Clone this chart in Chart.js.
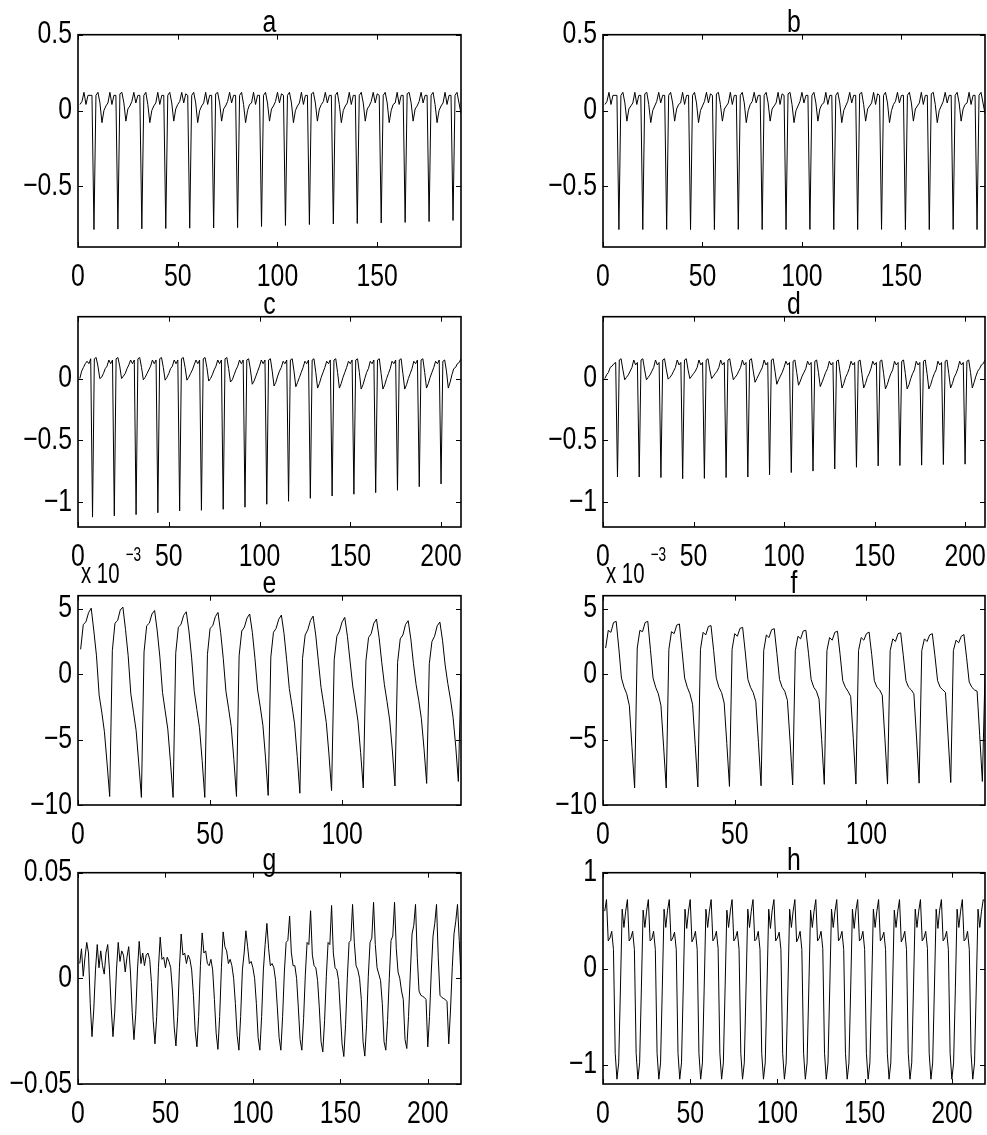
<!DOCTYPE html>
<html>
<head>
<meta charset="utf-8">
<script src="https://cdn.jsdelivr.net/npm/chart.js@4.4.1/dist/chart.umd.min.js"></script>
<style>
html,body{margin:0;padding:0;background:#fff;overflow:hidden;}
#wrap{position:relative;width:987px;height:1135px;overflow:hidden;background:#fff;}
.pn{position:absolute;}
</style>
</head>
<body>
<div id="wrap"></div>
<script>
// ---------------- data (sample index starts at 1) ----------------
const seriesA = [
 0.04, 0.06, 0.12, 0.04, 0.10, 0.10, 0.10,
 -0.785, 0.10, 0.12, 0.05, -0.08, 0.00, 0.03, 0.05, 0.12, 0.04, 0.10, 0.10,
 -0.782, 0.11, 0.12, 0.05, -0.07, 0.01, 0.03, 0.06, 0.12, 0.05, 0.10, 0.10,
 -0.780, 0.10, 0.12, 0.04, -0.08, 0.00, 0.03, 0.05, 0.12, 0.04, 0.10, 0.10,
 -0.778, 0.10, 0.12, 0.05, -0.07, 0.01, 0.04, 0.06, 0.12, 0.05, 0.11, 0.10,
 -0.776, 0.10, 0.12, 0.05, -0.08, 0.00, 0.03, 0.05, 0.12, 0.04, 0.10, 0.10,
 -0.775, 0.11, 0.12, 0.05, -0.07, 0.01, 0.03, 0.06, 0.12, 0.05, 0.10, 0.10,
 -0.772, 0.10, 0.12, 0.04, -0.08, 0.00, 0.04, 0.05, 0.12, 0.04, 0.10, 0.10,
 -0.765, 0.10, 0.12, 0.05, -0.07, 0.01, 0.03, 0.06, 0.12, 0.05, 0.11, 0.10,
 -0.758, 0.10, 0.12, 0.05, -0.08, 0.00, 0.03, 0.05, 0.12, 0.04, 0.10, 0.10,
 -0.752, 0.11, 0.12, 0.05, -0.07, 0.01, 0.04, 0.06, 0.12, 0.05, 0.10, 0.10,
 -0.748, 0.10, 0.12, 0.04, -0.08, 0.00, 0.03, 0.05, 0.12, 0.04, 0.10, 0.10,
 -0.745, 0.10, 0.12, 0.05, -0.07, 0.01, 0.03, 0.06, 0.12, 0.05, 0.11, 0.10,
 -0.742, 0.10, 0.12, 0.05, -0.08, 0.00, 0.04, 0.05, 0.12, 0.04, 0.10, 0.10,
 -0.738, 0.11, 0.12, 0.05, -0.07, 0.01, 0.03, 0.06, 0.12, 0.05, 0.10, 0.10,
 -0.732, 0.10, 0.12, 0.04, -0.08, 0.00, 0.03, 0.05, 0.12, 0.04, 0.10, 0.10,
 -0.725, 0.10, 0.12, 0.05, -0.02
];
const seriesB = [
 0.04, 0.06, 0.12, 0.04, 0.10, 0.10, 0.10,
 -0.785, 0.10, 0.12, 0.05, -0.07, 0.01, 0.03, 0.05, 0.12, 0.04, 0.10, 0.10,
 -0.785, 0.11, 0.12, 0.04, -0.08, 0.00, 0.03, 0.06, 0.12, 0.05, 0.10, 0.10,
 -0.784, 0.10, 0.12, 0.05, -0.07, 0.01, 0.04, 0.05, 0.12, 0.04, 0.10, 0.10,
 -0.785, 0.10, 0.12, 0.05, -0.08, 0.00, 0.03, 0.06, 0.12, 0.05, 0.11, 0.10,
 -0.785, 0.11, 0.12, 0.04, -0.07, 0.01, 0.03, 0.05, 0.12, 0.04, 0.10, 0.10,
 -0.784, 0.10, 0.12, 0.05, -0.08, 0.00, 0.04, 0.06, 0.12, 0.05, 0.10, 0.10,
 -0.785, 0.10, 0.12, 0.05, -0.07, 0.01, 0.03, 0.05, 0.12, 0.04, 0.11, 0.10,
 -0.785, 0.11, 0.12, 0.04, -0.08, 0.00, 0.03, 0.06, 0.12, 0.05, 0.10, 0.10,
 -0.784, 0.10, 0.12, 0.05, -0.07, 0.01, 0.04, 0.05, 0.12, 0.04, 0.10, 0.10,
 -0.785, 0.10, 0.12, 0.05, -0.08, 0.00, 0.03, 0.06, 0.12, 0.05, 0.10, 0.10,
 -0.785, 0.11, 0.12, 0.04, -0.07, 0.01, 0.03, 0.05, 0.12, 0.04, 0.11, 0.10,
 -0.784, 0.10, 0.12, 0.05, -0.08, 0.00, 0.04, 0.06, 0.12, 0.05, 0.10, 0.10,
 -0.785, 0.10, 0.12, 0.05, -0.07, 0.01, 0.03, 0.05, 0.12, 0.04, 0.10, 0.10,
 -0.785, 0.11, 0.12, 0.04, -0.08, 0.00, 0.03, 0.06, 0.12, 0.05, 0.10, 0.10,
 -0.784, 0.10, 0.12, 0.05, -0.07, 0.01, 0.04, 0.05, 0.12, 0.04, 0.10, 0.10,
 -0.785, 0.10, 0.12, 0.05, -0.02
];
const seriesC = [
 0.00, 0.06, 0.09, 0.12, 0.14, 0.12, 0.16,
 -1.120, 0.16, 0.17, 0.10, 0.000, 0.01, 0.04, 0.08, 0.10, 0.15, 0.12, 0.15,
 -1.110, 0.16, 0.17, 0.10, 0.000, 0.02, 0.04, 0.08, 0.11, 0.15, 0.12, 0.15,
 -1.100, 0.16, 0.17, 0.09, -0.010, 0.01, 0.04, 0.07, 0.10, 0.15, 0.12, 0.15,
 -1.085, 0.16, 0.17, 0.09, -0.013, 0.01, 0.04, 0.08, 0.10, 0.15, 0.12, 0.15,
 -1.070, 0.16, 0.17, 0.09, -0.013, 0.01, 0.04, 0.07, 0.11, 0.15, 0.12, 0.15,
 -1.065, 0.16, 0.17, 0.09, -0.020, 0.00, 0.03, 0.07, 0.10, 0.15, 0.12, 0.15,
 -1.057, 0.16, 0.17, 0.08, -0.028, -0.01, 0.03, 0.07, 0.10, 0.15, 0.12, 0.15,
 -1.040, 0.15, 0.16, 0.07, -0.046, -0.02, 0.02, 0.06, 0.10, 0.15, 0.12, 0.15,
 -1.016, 0.15, 0.16, 0.06, -0.060, -0.03, 0.02, 0.06, 0.09, 0.14, 0.12, 0.15,
 -0.992, 0.15, 0.16, 0.06, -0.066, -0.03, 0.01, 0.05, 0.09, 0.14, 0.12, 0.15,
 -0.968, 0.15, 0.16, 0.05, -0.077, -0.04, 0.01, 0.05, 0.09, 0.14, 0.12, 0.15,
 -0.949, 0.15, 0.16, 0.05, -0.077, -0.04, 0.01, 0.05, 0.09, 0.14, 0.12, 0.15,
 -0.935, 0.15, 0.16, 0.05, -0.085, -0.05, 0.00, 0.05, 0.08, 0.14, 0.12, 0.15,
 -0.922, 0.15, 0.16, 0.04, -0.085, -0.05, 0.00, 0.04, 0.08, 0.14, 0.12, 0.15,
 -0.903, 0.15, 0.16, 0.04, -0.085, -0.05, 0.00, 0.04, 0.08, 0.14, 0.12, 0.15,
 -0.874, 0.15, 0.16, 0.05, -0.077, -0.04, 0.01, 0.05, 0.09, 0.14, 0.12, 0.15,
 -0.852, 0.14, 0.15, 0.06, -0.077, -0.03, 0.03, 0.08, 0.09, 0.12, 0.13, 0.16
];
const seriesD = [
 0.00, 0.03, 0.05, 0.09, 0.10, 0.12, 0.13,
 -0.796, 0.15, 0.16, 0.07, -0.010, 0.01, 0.03, 0.06, 0.09, 0.15, 0.11, 0.13,
 -0.796, 0.15, 0.16, 0.07, -0.010, 0.01, 0.03, 0.06, 0.09, 0.15, 0.11, 0.13,
 -0.800, 0.15, 0.16, 0.07, -0.005, 0.01, 0.03, 0.06, 0.09, 0.15, 0.11, 0.13,
 -0.810, 0.15, 0.16, 0.07, 0.000, 0.02, 0.04, 0.06, 0.09, 0.15, 0.11, 0.13,
 -0.807, 0.15, 0.16, 0.07, 0.000, 0.02, 0.04, 0.06, 0.09, 0.15, 0.11, 0.13,
 -0.800, 0.15, 0.16, 0.07, -0.010, 0.01, 0.03, 0.06, 0.09, 0.15, 0.11, 0.13,
 -0.796, 0.15, 0.16, 0.06, -0.030, 0.00, 0.03, 0.06, 0.09, 0.15, 0.11, 0.13,
 -0.777, 0.15, 0.16, 0.06, -0.046, -0.01, 0.02, 0.05, 0.09, 0.14, 0.11, 0.13,
 -0.760, 0.14, 0.15, 0.05, -0.054, -0.02, 0.02, 0.05, 0.08, 0.14, 0.11, 0.13,
 -0.748, 0.14, 0.15, 0.05, -0.065, -0.03, 0.01, 0.05, 0.08, 0.14, 0.11, 0.13,
 -0.731, 0.14, 0.15, 0.04, -0.076, -0.04, 0.01, 0.04, 0.08, 0.14, 0.11, 0.13,
 -0.717, 0.14, 0.15, 0.04, -0.076, -0.04, 0.01, 0.04, 0.08, 0.14, 0.11, 0.13,
 -0.706, 0.14, 0.15, 0.04, -0.084, -0.05, 0.00, 0.04, 0.07, 0.14, 0.11, 0.13,
 -0.703, 0.14, 0.15, 0.04, -0.084, -0.05, 0.00, 0.04, 0.07, 0.14, 0.11, 0.13,
 -0.700, 0.14, 0.15, 0.04, -0.084, -0.05, 0.00, 0.04, 0.07, 0.14, 0.11, 0.13,
 -0.695, 0.14, 0.15, 0.04, -0.076, -0.04, 0.01, 0.04, 0.08, 0.14, 0.11, 0.13,
 -0.692, 0.14, 0.15, 0.05, -0.076, -0.03, 0.02, 0.06, 0.08, 0.11, 0.12, 0.15
];
// panels e and f are in units of 10^-3
const seriesE = [
 1.9, 3.8, 4.0, 4.7, 5.05, 3.3, 1.4, -1.6, -2.9, -4.4, -6.8,
 -9.35, 1.8, 3.9, 4.1, 4.9, 5.13, 3.4, 1.4, -1.5, -2.9, -4.3, -6.8,
 -9.42, 1.7, 3.7, 3.9, 4.6, 4.87, 3.3, 1.3, -1.4, -2.8, -4.2, -6.7,
 -9.42, 1.6, 3.6, 3.8, 4.5, 4.77, 3.3, 1.3, -1.3, -2.7, -4.1, -6.6,
 -9.42, 1.5, 3.5, 3.7, 4.4, 4.72, 3.2, 1.2, -1.3, -2.6, -4.0, -6.5,
 -9.35, 1.4, 3.3, 3.6, 4.3, 4.60, 3.2, 1.2, -1.2, -2.5, -3.9, -6.4,
 -9.27, 1.3, 3.2, 3.5, 4.2, 4.52, 3.1, 1.1, -1.1, -2.4, -3.8, -6.3,
 -9.10, 1.2, 3.0, 3.4, 4.1, 4.44, 3.0, 1.0, -1.0, -2.3, -3.7, -6.1,
 -8.90, 1.1, 2.9, 3.3, 4.0, 4.34, 2.9, 1.0, -0.9, -2.2, -3.6, -6.0,
 -8.70, 1.0, 2.8, 3.1, 3.9, 4.21, 2.8, 0.9, -0.8, -2.1, -3.5, -5.8,
 -8.55, 0.9, 2.7, 3.0, 3.8, 4.09, 2.7, 0.8, -0.8, -2.0, -3.4, -5.7,
 -8.35, 0.8, 2.5, 2.9, 3.7, 3.99, 2.6, 0.7, -0.7, -1.9, -3.3, -5.5,
 -8.20, 0.0
];
const seriesF = [
 2.0, 3.35, 3.2, 3.95, 4.04, 2.0, -0.3, -1.0, -1.5, -2.4, -5.6,
 -8.70, 2.0, 3.35, 3.25, 3.95, 4.04, 1.9, -0.3, -1.0, -1.5, -2.4, -5.5,
 -8.70, 1.9, 3.25, 3.1, 3.75, 3.84, 1.8, -0.3, -1.0, -1.5, -2.3, -5.4,
 -8.62, 1.9, 3.2, 3.0, 3.65, 3.71, 1.8, -0.3, -1.0, -1.4, -2.2, -5.3,
 -8.58, 1.9, 3.1, 2.9, 3.5, 3.58, 1.7, -0.4, -1.0, -1.4, -2.1, -5.2,
 -8.53, 1.8, 3.0, 2.8, 3.4, 3.48, 1.6, -0.4, -1.0, -1.3, -2.0, -5.1,
 -8.47, 1.8, 2.9, 2.7, 3.3, 3.36, 1.6, -0.4, -1.0, -1.3, -1.9, -5.0,
 -8.42, 1.8, 2.8, 2.6, 3.2, 3.28, 1.5, -0.5, -1.0, -1.3, -1.7, -4.9,
 -8.40, 1.8, 2.8, 2.6, 3.1, 3.22, 1.5, -0.5, -1.0, -1.2, -1.6, -4.9,
 -8.40, 1.8, 2.7, 2.5, 3.1, 3.16, 1.4, -0.5, -1.0, -1.2, -1.5, -4.8,
 -8.33, 1.8, 2.7, 2.5, 3.0, 3.10, 1.4, -0.5, -1.0, -1.2, -1.4, -4.8,
 -8.28, 1.8, 2.6, 2.4, 2.9, 3.03, 1.3, -0.6, -1.0, -1.2, -1.3, -4.7,
 -8.20, 0.0
];
const seriesG = [
 0.007, 0.014, 0.001, 0.010, 0.017, 0.012, -0.012,
 -0.0276, -0.015, 0.004, 0.016, 0.005, 0.013, 0.006, 0.002, 0.012, 0.016, 0.004, -0.014,
 -0.0276, -0.016, 0.004, 0.017, 0.008, 0.013, 0.011, 0.003, 0.010, 0.015, 0.003, -0.016,
 -0.0290, -0.017, 0.004, 0.0175, 0.007, 0.012, 0.006, 0.011, 0.012, 0.009, -0.002, -0.020,
 -0.0310, -0.018, 0.005, 0.0195, 0.009, 0.010, 0.005, 0.010, 0.008, 0.005, -0.006, -0.023,
 -0.0320, -0.018, 0.005, 0.021, 0.011, 0.012, 0.007, 0.011, 0.009, 0.004, -0.008, -0.025,
 -0.0324, -0.018, 0.006, 0.0215, 0.012, 0.013, 0.007, 0.006, 0.009, 0.004, -0.010, -0.026,
 -0.0336, -0.018, 0.005, 0.022, 0.015, 0.013, 0.007, 0.009, 0.006, 0.000, -0.012, -0.027,
 -0.0340, -0.018, 0.004, 0.012, 0.0225, 0.015, 0.007, 0.008, 0.005, 0.000, -0.012, -0.028,
 -0.0340, -0.018, 0.004, 0.016, 0.026, 0.014, 0.006, 0.007, 0.005, -0.001, -0.014, -0.028,
 -0.0340, -0.018, 0.003, 0.017, 0.018, 0.0295, 0.012, 0.006, 0.006, 0.000, -0.014, -0.029,
 -0.0340, -0.019, 0.002, 0.017, 0.016, 0.032, 0.011, 0.006, 0.005, -0.001, -0.014, -0.030,
 -0.0348, -0.020, 0.001, 0.017, 0.016, 0.0345, 0.012, 0.005, 0.004, -0.001, -0.016, -0.031,
 -0.0370, -0.022, 0.000, 0.017, 0.018, 0.035, 0.017, 0.006, 0.004, 0.000, -0.010, -0.030,
 -0.0368, -0.022, 0.001, 0.017, 0.019, 0.036, 0.016, 0.005, 0.002, -0.001, -0.012, -0.030,
 -0.0340, -0.020, 0.000, 0.018, 0.020, 0.036, 0.014, 0.003, 0.000, -0.006, -0.010, -0.029,
 -0.0332, -0.018, 0.002, 0.021, 0.025, 0.035, 0.010, -0.006, -0.008, -0.0085, -0.009, -0.010,
 -0.0324, -0.018, 0.003, 0.020, 0.026, 0.035, 0.010, -0.008, -0.009, -0.0095, -0.010, -0.011,
 -0.0310, -0.015, 0.005, 0.021, 0.027, 0.035, 0.018, 0.000
];
const seriesH = [
 0.60, 0.72, 0.29, 0.32, 0.39, 0.20, -0.88,
 -1.15, -0.98, -0.20, 0.62, 0.43, 0.60, 0.72, 0.29, 0.32, 0.39, 0.20, -0.88,
 -1.15, -0.98, -0.21, 0.61, 0.43, 0.60, 0.72, 0.29, 0.31, 0.39, 0.20, -0.88,
 -1.15, -0.98, -0.20, 0.62, 0.43, 0.61, 0.72, 0.29, 0.32, 0.38, 0.20, -0.88,
 -1.15, -0.98, -0.20, 0.62, 0.42, 0.60, 0.72, 0.28, 0.32, 0.39, 0.20, -0.88,
 -1.15, -0.98, -0.21, 0.62, 0.43, 0.60, 0.72, 0.29, 0.32, 0.39, 0.21, -0.88,
 -1.15, -0.98, -0.20, 0.61, 0.43, 0.60, 0.72, 0.29, 0.32, 0.39, 0.20, -0.88,
 -1.15, -0.98, -0.20, 0.62, 0.43, 0.60, 0.72, 0.29, 0.31, 0.39, 0.20, -0.88,
 -1.15, -0.98, -0.20, 0.62, 0.42, 0.61, 0.72, 0.29, 0.32, 0.38, 0.20, -0.88,
 -1.15, -0.98, -0.21, 0.62, 0.43, 0.60, 0.72, 0.28, 0.32, 0.39, 0.20, -0.88,
 -1.15, -0.98, -0.20, 0.61, 0.43, 0.60, 0.72, 0.29, 0.32, 0.39, 0.21, -0.88,
 -1.15, -0.98, -0.20, 0.62, 0.43, 0.60, 0.72, 0.29, 0.32, 0.39, 0.20, -0.88,
 -1.15, -0.98, -0.20, 0.62, 0.42, 0.61, 0.72, 0.29, 0.31, 0.39, 0.20, -0.88,
 -1.15, -0.98, -0.21, 0.62, 0.43, 0.60, 0.72, 0.29, 0.32, 0.38, 0.20, -0.88,
 -1.15, -0.98, -0.20, 0.61, 0.43, 0.60, 0.72, 0.28, 0.32, 0.39, 0.20, -0.88,
 -1.15, -0.98, -0.20, 0.62, 0.43, 0.60, 0.72, 0.29, 0.32, 0.39, 0.21, -0.88,
 -1.15, -0.98, -0.20, 0.62, 0.42, 0.61, 0.72, 0.29, 0.32, 0.39, 0.20, -0.88,
 -1.15, -0.98, -0.21, 0.62, 0.43, 0.60, 0.72, 0.29, 0.31, 0.39, 0.20, -0.88,
 -1.15, -0.98, -0.20, 0.62, 0.43, 0.60, 0.72, 0.70
];

const panelTitles = ['a', 'b', 'c', 'd', 'e', 'f', 'g', 'h'];

const xTicksAB = [0, 50, 100, 150];
const xLabelsAB = ['0', '50', '100', '150'];
const yTicksAB = [-0.5, 0, 0.5];
const yLabelsAB = ['\u22120.5', '0', '0.5'];

const xTicksCD = [0, 50, 100, 150, 200];
const xLabelsCD = ['0', '50', '100', '150', '200'];
const yTicksCD = [-1, -0.5, 0];
const yLabelsCD = ['\u22121', '\u22120.5', '0'];

const xTicksEF = [0, 50, 100];
const xLabelsEF = ['0', '50', '100'];
const yTicksEF = [-10, -5, 0, 5];
const yLabelsEF = ['\u221210', '\u22125', '0', '5'];
const multiplierEF = 'x 10';
const exponentEF = '\u22123';

const xTicksGH = [0, 50, 100, 150, 200];
const xLabelsGH = ['0', '50', '100', '150', '200'];
const yTicksG = [-0.05, 0, 0.05];
const yLabelsG = ['\u22120.05', '0', '0.05'];
const yTicksH = [-1, 0, 1];
const yLabelsH = ['\u22121', '0', '1'];

// axis limits
const xMaxAB = 192, xMaxCD = 211, xMaxEF = 145, xMaxGH = 219;
const yLimAB = [-0.9, 0.5], yLimCD = [-1.2, 0.5], yLimEF = [-10, 6], yLimG = [-0.05, 0.05], yLimH = [-1.2, 1];

// ---------------- layout ----------------
const FONT = "'Liberation Sans', Arial, Helvetica, sans-serif";
const FONT_SIZE = 31;
const TEXT_SX = 0.8;           // horizontal condensation of the original narrow face
const COLS = [{L: 78, R: 461}, {L: 603, R: 985}];
const ROWS = [{T: 34, B: 247}, {T: 316, B: 527}, {T: 595, B: 805}, {T: 872, B: 1084}];
const PAD_TOP = 50, AXIS_W = 78, AXIS_H = 50, PAD_RIGHT = 40;

const panels = [
  {data: seriesA, xmax: xMaxAB, ylim: yLimAB, xt: xTicksAB, xl: xLabelsAB, yt: yTicksAB, yl: yLabelsAB},
  {data: seriesB, xmax: xMaxAB, ylim: yLimAB, xt: xTicksAB, xl: xLabelsAB, yt: yTicksAB, yl: yLabelsAB},
  {data: seriesC, xmax: xMaxCD, ylim: yLimCD, xt: xTicksCD, xl: xLabelsCD, yt: yTicksCD, yl: yLabelsCD},
  {data: seriesD, xmax: xMaxCD, ylim: yLimCD, xt: xTicksCD, xl: xLabelsCD, yt: yTicksCD, yl: yLabelsCD},
  {data: seriesE, xmax: xMaxEF, ylim: yLimEF, xt: xTicksEF, xl: xLabelsEF, yt: yTicksEF, yl: yLabelsEF, mult: multiplierEF, exp: exponentEF},
  {data: seriesF, xmax: xMaxEF, ylim: yLimEF, xt: xTicksEF, xl: xLabelsEF, yt: yTicksEF, yl: yLabelsEF, mult: multiplierEF, exp: exponentEF},
  {data: seriesG, xmax: xMaxGH, ylim: yLimG, xt: xTicksGH, xl: xLabelsGH, yt: yTicksG, yl: yLabelsG},
  {data: seriesH, xmax: xMaxGH, ylim: yLimH, xt: xTicksGH, xl: xLabelsGH, yt: yTicksH, yl: yLabelsH}
];

const nativeFillText = CanvasRenderingContext2D.prototype.fillText;

// render all chart text slightly condensed, anchored at the library's own label position
const condensePlugin = {
  id: 'condense',
  beforeInit(chart) {
    chart.ctx.fillText = function (text, x, y, maxWidth) {
      this.save();
      this.translate(x, y);
      this.scale(TEXT_SX, 1);
      if (maxWidth === undefined) nativeFillText.call(this, text, 0, 0);
      else nativeFillText.call(this, text, 0, 0, maxWidth / TEXT_SX);
      this.restore();
    };
  }
};

function framePlugin(spec) {
  return {
    id: 'frame',
    afterDraw(chart) {
      const ctx = chart.ctx, a = chart.chartArea;
      const xs = chart.scales.x, ys = chart.scales.y;
      ctx.save();
      ctx.strokeStyle = '#000';
      ctx.lineWidth = 1;
      ctx.beginPath();
      spec.xt.forEach(v => {
        const p = Math.round(xs.getPixelForValue(v)) + 0.5;
        ctx.moveTo(p, a.bottom); ctx.lineTo(p, a.bottom - 5);
        ctx.moveTo(p, a.top); ctx.lineTo(p, a.top + 5);
      });
      spec.yt.forEach(v => {
        const p = Math.round(ys.getPixelForValue(v)) + 0.5;
        ctx.moveTo(a.left, p); ctx.lineTo(a.left + 5, p);
        ctx.moveTo(a.right, p); ctx.lineTo(a.right - 5, p);
      });
      ctx.stroke();
      ctx.lineWidth = 1.6;
      ctx.strokeRect(a.left, a.top, a.right - a.left, a.bottom - a.top);
      ctx.restore();
      if (spec.exp) {
        // axis multiplier "x 10^-3"
        ctx.save();
        ctx.fillStyle = '#000';
        ctx.textAlign = 'left';
        ctx.textBaseline = 'alphabetic';
        ctx.translate(a.left + 3, a.top - 13);
        ctx.scale(0.68, 1);
        ctx.font = '30px ' + FONT;
        nativeFillText.call(ctx, spec.mult, 0, 0);
        const w = ctx.measureText(spec.mult).width;
        ctx.font = '20px ' + FONT;
        nativeFillText.call(ctx, spec.exp, w + 9, -22);
        ctx.restore();
      }
    }
  };
}

const wrap = document.getElementById('wrap');
panels.forEach((spec, i) => {
  const col = COLS[i % 2], row = ROWS[Math.floor(i / 2)];
  const rp = PAD_RIGHT;
  const cw = AXIS_W + (col.R - col.L) + rp;
  const ch = PAD_TOP + (row.B - row.T) + AXIS_H;
  const div = document.createElement('div');
  div.className = 'pn';
  div.style.left = (col.L - AXIS_W) + 'px';
  div.style.top = (row.T - PAD_TOP) + 'px';
  div.style.width = cw + 'px';
  div.style.height = ch + 'px';
  const cv = document.createElement('canvas');
  cv.width = cw; cv.height = ch;
  cv.style.width = cw + 'px'; cv.style.height = ch + 'px';
  div.appendChild(cv);
  wrap.appendChild(div);

  new Chart(cv, {
    type: 'line',
    data: {
      datasets: [{
        data: spec.data.map((v, k) => ({x: k + 1, y: v})),
        borderColor: '#000',
        borderWidth: 1,
        pointRadius: 0,
        tension: 0,
        fill: false
      }]
    },
    options: {
      responsive: false,
      animation: false,
      devicePixelRatio: 1,
      layout: {padding: {top: 10, right: rp, left: 0, bottom: 0}},
      plugins: {
        legend: {display: false},
        tooltip: {enabled: false},
        title: {
          display: true, text: panelTitles[i], fullSize: false, color: '#000',
          font: {family: FONT, size: FONT_SIZE, weight: 'normal', lineHeight: 0.7},
          padding: {top: 19, bottom: 0}
        }
      },
      scales: {
        x: {
          type: 'linear', min: 0, max: spec.xmax,
          grid: {display: false, drawTicks: false},
          border: {display: false},
          ticks: {autoSkip: false, maxRotation: 0, minRotation: 0, color: '#000', padding: 12,
                  font: {family: FONT, size: FONT_SIZE},
                  callback: (v, k) => spec.xl[k]},
          afterBuildTicks: s => { s.ticks = spec.xt.map(v => ({value: v})); },
          afterFit: s => { s.height = AXIS_H; }
        },
        y: {
          type: 'linear', min: spec.ylim[0], max: spec.ylim[1],
          grid: {display: false, drawTicks: false},
          border: {display: false},
          ticks: {autoSkip: false, color: '#000', padding: 6,
                  font: {family: FONT, size: FONT_SIZE},
                  callback: (v, k) => spec.yl[k]},
          afterBuildTicks: s => { s.ticks = spec.yt.map(v => ({value: v})); },
          afterFit: s => { s.width = AXIS_W; }
        }
      }
    },
    plugins: [condensePlugin, framePlugin(spec)]
  });
});
</script>
</body>
</html>
